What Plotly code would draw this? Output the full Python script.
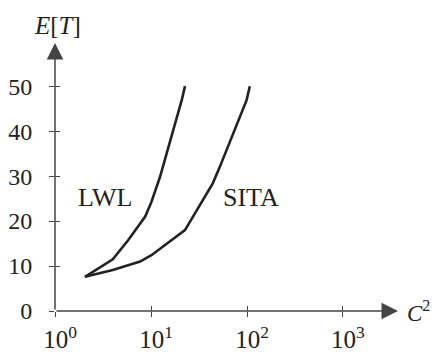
import plotly.graph_objects as go

lwl_x = [2.05, 4.0, 5.8, 8.7, 10.0, 12.4, 20.9, 22.6]
lwl_y = [7.6, 11.5, 15.8, 21.0, 24.0, 29.8, 46.9, 50.0]
sita_x = [2.05, 4.0, 7.7, 10.1, 22.6, 44.0, 52.0, 99.0, 107.0]
sita_y = [7.6, 9.1, 11.0, 12.4, 18.0, 28.4, 32.0, 46.9, 50.0]

x_tickvals = [1, 10, 100, 1000]
x_ticktext = ["10<sup>0</sup>", "10<sup>1</sup>", "10<sup>2</sup>", "10<sup>3</sup>"]
y_tickvals = [0, 10, 20, 30, 40, 50]

FONT = "Liberation Serif"
AX = "#444444"
LINE = "#222222"

fig = go.Figure()
fig.add_trace(go.Scatter(x=lwl_x, y=lwl_y, mode="lines",
                         line=dict(color=LINE, width=2.6), showlegend=False))
fig.add_trace(go.Scatter(x=sita_x, y=sita_y, mode="lines",
                         line=dict(color=LINE, width=2.6), showlegend=False))

xr = [0, 3.573]
yr = [0, 59.6]

# page body has an 8px margin, so the figure is 8px smaller and margins shifted
fig.update_layout(
    width=431, height=349,
    margin=dict(l=47, r=41, t=35, b=46),
    paper_bgcolor="white", plot_bgcolor="white",
    font=dict(family=FONT, size=24, color="#222222"),
    xaxis=dict(type="log", range=xr, tickvals=x_tickvals, ticktext=x_ticktext,
               showgrid=False, zeroline=False, showline=False, automargin=False,
               ticks="outside", ticklen=5, tickwidth=1.3, tickcolor=AX,
               ticklabelstandoff=1, ticklabelshift=5,
               tickfont=dict(family=FONT, size=25)),
    yaxis=dict(range=yr, tickvals=y_tickvals, showgrid=False, zeroline=False,
               showline=False, automargin=False, ticks="outside", ticklen=5,
               tickwidth=1.3, tickcolor=AX, ticklabelstandoff=12,
               tickfont=dict(family=FONT, size=24)),
    xaxis2=dict(type="log", range=xr, overlaying="x", tickvals=x_tickvals,
                showticklabels=False, ticks="inside", ticklen=5, tickwidth=1.3,
                tickcolor=AX, showgrid=False, zeroline=False, showline=False,
                automargin=False, side="bottom"),
    yaxis2=dict(range=yr, overlaying="y", tickvals=y_tickvals,
                showticklabels=False, ticks="inside", ticklen=5, tickwidth=1.3,
                tickcolor=AX, showgrid=False, zeroline=False, showline=False,
                automargin=False, side="left"),
)

# invisible trace to activate overlay axes
fig.add_trace(go.Scatter(x=[1], y=[0], xaxis="x2", yaxis="y2", mode="markers",
                         marker=dict(opacity=0), showlegend=False, hoverinfo="skip"))

# axis arrows
fig.add_annotation(x=1, y=0, ax=0, ay=0, xref="x domain", yref="y domain",
                   axref="x domain", ayref="y domain", showarrow=True, text="",
                   arrowhead=2, arrowsize=2.2, arrowwidth=1.5, arrowcolor=AX)
fig.add_annotation(x=0, y=1, ax=0, ay=0, xref="x domain", yref="y domain",
                   axref="x domain", ayref="y domain", showarrow=True, text="",
                   arrowhead=2, arrowsize=2.2, arrowwidth=1.5, arrowcolor=AX)

# labels
fig.add_annotation(x=0.146, y=25.3, xref="paper", yref="y", text="LWL",
                   showarrow=False, xanchor="center", yanchor="middle",
                   font=dict(family=FONT, size=26))
fig.add_annotation(x=0.571, y=25.3, xref="paper", yref="y", text="SITA",
                   showarrow=False, xanchor="center", yanchor="middle",
                   font=dict(family=FONT, size=26))
fig.add_annotation(x=0.006, y=1.0, xref="paper", yref="paper",
                   text="<i>E</i>[<i>T</i>]", showarrow=False,
                   xanchor="center", yanchor="bottom", yshift=2,
                   font=dict(family=FONT, size=25))
fig.add_annotation(x=1.0, y=0, xref="paper", yref="paper",
                   text="<i>C</i><sup>2</sup>", showarrow=False,
                   xanchor="left", yanchor="middle", xshift=7,
                   font=dict(family=FONT, size=23))

fig.write_html("out.html")
